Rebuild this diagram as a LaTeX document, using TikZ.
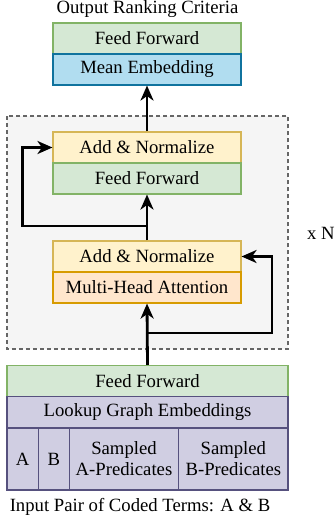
\documentclass[tikz,border=0pt]{standalone}
\usepackage{fontspec}
\setmainfont{Liberation Serif}
\usetikzlibrary{arrows.meta}

\definecolor{ffFill}{HTML}{D5E8D4}
\definecolor{ffLine}{HTML}{82B366}
\definecolor{embFill}{HTML}{B1DDF0}
\definecolor{embLine}{HTML}{10739E}
\definecolor{normFill}{HTML}{FFF2CC}
\definecolor{normLine}{HTML}{D6B656}
\definecolor{attFill}{HTML}{FFE6CC}
\definecolor{attLine}{HTML}{D79B00}
\definecolor{lookFill}{HTML}{D0CEE2}
\definecolor{lookLine}{HTML}{56517E}

\tikzset{
	layer/.style={draw, line width=1.1pt, minimum width=188pt, minimum height=31pt, inner sep=0pt, font=\fontsize{18.7}{21}\selectfont},
	ffbox/.style={layer, fill=ffFill, draw=ffLine},
	embbox/.style={layer, fill=embFill, draw=embLine},
	normbox/.style={layer, fill=normFill, draw=normLine},
	attbox/.style={layer, fill=attFill, draw=attLine},
	lookbox/.style={layer, fill=lookFill, draw=lookLine},
	flow/.style={line width=2.8pt, -{Stealth[length=15pt,width=13pt,inset=4.5pt]}},
	caption/.style={font=\fontsize{18.7}{21}\selectfont, inner sep=0pt}
}

\begin{document}
\begin{tikzpicture}[x=1pt,y=-1pt]
	\useasboundingbox (0,0) rectangle (335,519);
	% repeated block
	\draw[dash pattern=on 4pt off 3pt, draw=black!60, fill=black!4, line width=1.1pt] (7,116) rectangle (288,349);
	\node[caption, anchor=base west] (times) at (307,239) {x N};

	% output head
	\node[caption] (title) at (147.5,9) {Output Ranking Criteria};
	\node[ffbox] (ffTop) at (147,38.5) {Feed Forward};
	\node[embbox] (mean) at (147,69.5) {Mean Embedding};

	% encoder layer
	\node[normbox] (normUp) at (147,147.5) {Add \& Normalize};
	\node[ffbox] (ffMid) at (147,178.5) {Feed Forward};
	\node[normbox] (normLow) at (147,256.5) {Add \& Normalize};
	\node[attbox] (att) at (147,287.5) {Multi-Head Attention};

	% input
	\node[ffbox, minimum width=281pt] (ffIn) at (147.5,381) {Feed Forward};
	\node[lookbox, minimum width=281pt] (look) at (147.5,412.25) {Lookup Graph Embeddings};
	\node[lookbox, minimum width=31.3pt, minimum height=62pt] (termA) at (22.65,459) {A};
	\node[lookbox, minimum width=31pt, minimum height=62pt] (termB) at (53.8,459) {B};
	\node[lookbox, minimum width=109.4pt, minimum height=62pt, align=center] (predA) at (124,459) {Sampled\\A-Predicates};
	\node[lookbox, minimum width=109.3pt, minimum height=62pt, align=center] (predB) at (233.35,459) {Sampled\\B-Predicates};
	\node[caption] (input) at (140,507) {Input Pair of Coded Terms: A \& B};

	% residual paths
	\coordinate (splitUp) at (147,226);
	\coordinate (loopL) at (22.5,147.5);
	\coordinate (splitLow) at (147,333);
	\coordinate (loopR) at (272,256.5);

	\draw[flow] (ffIn.north) -- (att.south);
	\draw[flow] (splitLow) -| (loopR) -- (normLow.east);
	\draw[flow] (normLow.north) -- (ffMid.south);
	\draw[flow] (splitUp) -| (loopL) -- (normUp.west);
	\draw[flow] (normUp.north) -- (mean.south);
\end{tikzpicture}
\end{document}
